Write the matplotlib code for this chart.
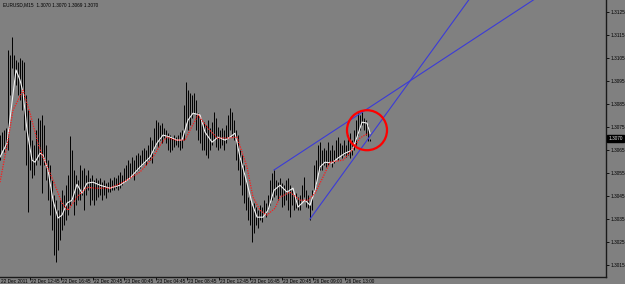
import matplotlib
matplotlib.use('Agg')
import matplotlib.pyplot as plt
from matplotlib.patches import Ellipse
import matplotlib.transforms as mtransforms

# ---------------- data (prices in pips above 1.3000) ----------------
base_price = 1.3000
title_text = "EURUSD,M15  1.3070 1.3070 1.3069 1.3070"

hi_pips = [
    71.5, 72.8, 73.6, 74.5, 108.5, 106.3, 114.1, 106.3, 104.1, 103.2,
    105.0, 104.1, 103.2, 88.9, 82.3, 78.0, 69.3, 67.1, 73.6, 78.9,
    78.0, 80.2, 75.8, 67.1, 60.6, 58.4, 51.9, 45.4, 43.2, 38.8,
    43.2, 47.5, 45.4, 49.7, 54.1, 71.0, 64.9, 56.2, 54.1, 51.9,
    58.4, 56.2, 57.1, 54.1, 56.2, 52.8, 54.1, 51.9, 52.8, 51.9,
    52.8, 51.0, 51.9, 50.6, 51.0, 52.8, 51.9, 53.2, 52.8, 54.1,
    55.4, 54.1, 57.1, 58.4, 60.6, 59.3, 61.9, 60.6, 62.8, 63.6,
    62.8, 64.9, 65.8, 64.9, 67.1, 70.6, 69.3, 74.5, 78.0, 77.1,
    75.8, 76.7, 74.5, 73.6, 72.3, 71.5, 70.6, 71.5, 70.6, 71.5,
    72.8, 73.6, 84.5, 94.5, 91.0, 89.7, 88.9, 89.7, 86.7, 81.0,
    78.9, 78.0, 77.1, 75.8, 78.0, 74.5, 77.1, 81.5, 78.9, 75.0,
    73.6, 74.5, 73.6, 75.8, 80.2, 83.2, 81.5, 78.0, 73.6, 71.5,
    64.9, 62.8, 58.4, 51.9, 44.5, 43.2, 41.0, 41.9, 40.2, 38.8,
    41.0, 40.2, 43.2, 41.9, 45.4, 51.9, 54.9, 56.2, 51.9, 51.0,
    52.8, 50.6, 49.7, 51.9, 52.8, 49.7, 47.5, 45.4, 46.2, 44.5,
    45.4, 49.7, 53.2, 47.5, 45.4, 41.0, 47.5, 58.4, 60.6, 67.1,
    68.4, 64.9, 65.8, 64.9, 68.4, 64.9, 67.1, 64.9, 69.3, 70.6,
    68.0, 67.1, 69.3, 67.1, 71.5, 72.3, 69.3, 73.6, 78.0, 81.0,
    80.2, 81.5, 78.9, 78.0, 75.8, 70.0,
]
lo_pips = [
    60.6, 64.9, 64.1, 65.8, 64.9, 88.9, 100.6, 95.4, 93.2, 88.9,
    86.7, 82.3, 73.6, 58.4, 38.0, 56.2, 52.8, 54.1, 58.4, 60.6,
    58.4, 46.2, 58.4, 51.9, 43.2, 36.7, 30.1, 19.3, 16.2, 21.4,
    25.8, 30.1, 32.3, 34.5, 36.7, 41.0, 43.2, 36.7, 41.0, 43.2,
    43.2, 45.4, 38.8, 45.4, 47.5, 41.0, 43.2, 41.0, 43.2, 44.5,
    45.4, 43.2, 45.4, 44.1, 46.7, 46.7, 47.5, 47.5, 48.4, 47.5,
    48.4, 49.7, 51.0, 51.9, 52.8, 52.8, 54.1, 51.9, 55.4, 56.2,
    57.1, 58.4, 59.3, 58.4, 60.6, 60.6, 59.3, 64.9, 67.1, 66.3,
    69.3, 68.0, 70.2, 68.0, 64.9, 64.1, 64.9, 66.3, 67.1, 66.3,
    64.9, 65.8, 69.3, 76.7, 73.6, 75.8, 78.9, 81.0, 73.6, 69.3,
    68.0, 64.9, 64.9, 62.8, 61.5, 64.9, 67.1, 69.3, 66.3, 64.9,
    65.8, 67.1, 64.9, 68.0, 70.6, 73.6, 70.6, 69.3, 60.6, 56.2,
    49.7, 45.4, 41.9, 38.8, 34.5, 32.3, 24.9, 28.8, 32.3, 31.0,
    34.5, 33.6, 36.7, 35.8, 38.8, 41.0, 43.2, 44.5, 45.4, 43.2,
    45.4, 40.2, 41.0, 43.2, 38.8, 35.8, 41.0, 38.8, 39.7, 38.8,
    38.8, 43.2, 44.5, 40.2, 39.7, 34.5, 38.8, 46.7, 49.7, 54.9,
    56.2, 56.2, 58.4, 57.6, 58.4, 59.3, 57.6, 59.3, 61.5, 60.6,
    62.8, 61.5, 62.8, 61.9, 62.8, 61.5, 62.8, 64.9, 67.1, 71.5,
    73.6, 75.8, 73.6, 71.5, 68.9, 69.0,
]

# fast moving average (white): bar index -> pips
fast_ma_bar = [0, 3.5, 8, 10, 11.5, 13.5, 16, 17.5, 20, 21.5, 24, 26.5, 29, 31,
               33.5, 36, 38.5, 41, 43.5, 46.5, 50, 55, 60, 65, 70, 75, 78.5, 81.5,
               85, 88.5, 91, 94, 96.5, 100, 102.5, 106, 109, 112.5, 115, 117.5,
               120, 123.5, 126, 128.5, 131.5, 134, 137, 140, 143.5, 146.5, 149,
               152.5, 155, 157.5, 160, 162.5, 166, 169, 172.5, 176, 178.5, 181,
               183.5, 185]
fast_ma_pips = [61.9, 68.0, 99.8, 95.4, 90.2, 73.6, 60.6, 59.7, 63.6, 62.8, 56.2,
                43.2, 35.4, 36.7, 41.9, 43.2, 50.1, 46.2, 50.6, 51.0, 49.7, 48.4,
                49.7, 52.8, 57.6, 61.9, 68.0, 71.5, 70.6, 69.3, 69.3, 78.0, 81.0,
                80.2, 72.8, 68.4, 70.6, 69.3, 70.6, 72.3, 61.9, 50.6, 41.9, 35.8,
                35.8, 38.8, 47.5, 49.7, 46.7, 48.4, 40.2, 43.2, 41.0, 47.5, 57.6,
                59.7, 59.3, 61.5, 63.6, 64.9, 70.6, 77.1, 76.7, 72.3]

# slow moving average (red dotted)
slow_ma_bar = [0, 4, 6.5, 11.5, 15, 19, 21.5, 26.5, 31, 34, 38.5, 43.5, 47.5, 55,
               61.5, 70, 76.5, 81, 83.5, 87.5, 92.5, 95, 99, 104, 108.5, 114,
               118.5, 123.5, 126.5, 130, 133.5, 137.5, 140, 145, 150, 154, 157.5,
               161.5, 165, 171.5, 176, 180, 184]
slow_ma_pips = [51.0, 69.3, 82.3, 91.0, 81.0, 68.0, 61.9, 51.9, 41.9, 38.8, 44.5,
                48.8, 48.4, 48.4, 51.0, 55.4, 61.9, 68.4, 70.6, 69.3, 69.3, 73.6,
                80.2, 74.5, 70.2, 70.2, 70.6, 57.6, 44.5, 38.8, 36.7, 39.7, 44.5,
                46.7, 43.2, 43.2, 46.2, 53.2, 59.7, 60.6, 64.9, 70.2, 72.3]

# trend lines (two anchor points each: bar index, price), drawn as rays
trend_upper = [(137, 1.30563), (180.5, 1.30811)]
trend_lower = [(155, 1.30350), (180, 1.30650)]
circle_center = (183.5, 1.30736)

price_ticks = [1.3015, 1.3025, 1.3035, 1.3045, 1.3055, 1.3065,
               1.3075, 1.3085, 1.3095, 1.3105, 1.3115, 1.3125]
last_price = 1.3070

time_tick_bars = [0, 14.75, 30.25, 46.25, 61.75, 77.75, 93.25, 109.25,
                  124.75, 140.75, 156.25, 172.25]
time_tick_labels = ["22 Dec 2011", "22 Dec 12:45", "22 Dec 16:45", "22 Dec 20:45",
                    "23 Dec 00:45", "23 Dec 04:45", "23 Dec 08:45", "23 Dec 12:45",
                    "23 Dec 16:45", "23 Dec 20:45", "26 Dec 09:00", "26 Dec 13:00"]

# ---------------- drawing ----------------
BG = '#808080'
plt.rcParams['font.family'] = ['Liberation Sans', 'DejaVu Sans']
fig = plt.figure(figsize=(6.25, 2.84), dpi=100, facecolor=BG)
ax = fig.add_axes([0, 7 / 284, 606 / 625, 277 / 284])
ax.set_facecolor(BG)

y_top = 1.3125 + 12 / 23000
y_bot = 1.3125 - 265 / 23000
x_max = 303
ax.set_xlim(0, x_max)
ax.set_ylim(y_bot, y_top)

bars = list(range(len(hi_pips)))
highs = [base_price + h / 10000 for h in hi_pips]
lows = [base_price + l / 10000 for l in lo_pips]
ax.vlines(bars, lows, highs, colors='#000000', linewidth=0.7, zorder=2)

ax.plot(fast_ma_bar, [base_price + v / 10000 for v in fast_ma_pips],
        color='#f4f4f4', lw=0.8, zorder=3)
ax.plot(slow_ma_bar, [base_price + v / 10000 for v in slow_ma_pips],
        color='#ff1a1a', lw=0.9, linestyle=(0, (1, 1)), zorder=3)

for (x0, p0), (x1, p1) in (trend_upper, trend_lower):
    slope = (p1 - p0) / (x1 - x0)
    x_end = x_max + 20
    ax.plot([x0, x_end], [p0, p0 + slope * (x_end - x0)],
            color='#3b3bd8', lw=0.8, zorder=4)

ax.add_patch(Ellipse(circle_center, width=20, height=40 / 23000,
                     fill=False, edgecolor='#ff0000', lw=1.6, zorder=5))

for s in ('left', 'top'):
    ax.spines[s].set_visible(False)
for s in ('right', 'bottom'):
    ax.spines[s].set_color('#1a1a1a')
    ax.spines[s].set_linewidth(1.0)

ax.yaxis.tick_right()
ax.set_yticks(price_ticks)
ax.set_yticklabels([f"{p:.4f}" for p in price_ticks])
ax.tick_params(axis='y', length=2, width=0.6, pad=1.5, labelsize=3.4,
               colors='#000000', direction='out')

ax.set_xticks(time_tick_bars[1:])
ax.set_xticklabels([])
ax.tick_params(axis='x', length=2, width=0.6, direction='out', colors='#000000')
trans = mtransforms.blended_transform_factory(ax.transData, ax.transAxes)
for xb, lab in zip(time_tick_bars, time_tick_labels):
    ax.text(xb + 0.6, -0.006, lab, transform=trans, ha='left', va='top',
            fontsize=3.4, color='#000000', clip_on=False)

trans_y = mtransforms.blended_transform_factory(ax.transAxes, ax.transData)
ax.text(1.004, last_price, f"{last_price:.4f}", transform=trans_y, ha='left',
        va='center', fontsize=3.4, color='#e8e8e8', clip_on=False, zorder=6,
        bbox=dict(boxstyle='square,pad=0.25', facecolor='#000000',
                  edgecolor='#000000'))

fig.text(3 / 625, 1 - 5 / 284, title_text, ha='left', va='center',
         fontsize=3.4, color='#000000')

fig.savefig('out.png', dpi=100, facecolor=BG)
